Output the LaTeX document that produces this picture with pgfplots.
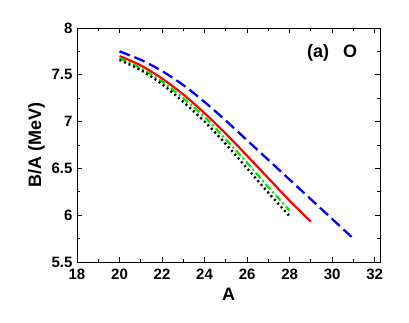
\documentclass[border=0pt]{standalone}
\usepackage{pgfplots}
\pgfplotsset{compat=1.18}
\usepackage{fontspec}
\setmainfont{Liberation Sans}
\begin{document}
\begin{tikzpicture}
\begin{axis}[
  scale only axis,
  width=303pt, height=234pt,
  xmin=18, xmax=32.25, ymin=5.5, ymax=8,
  xtick={18,20,...,32}, ytick={5.5,6,...,8},
  minor x tick num=1, minor y tick num=1,
  tick align=inside, ticks=both,
  xtick pos=both, ytick pos=both,
  major tick length=5pt, minor tick length=3pt,
  tick style={black, line width=0.8pt},
  axis line style={line width=0.9pt},
  /pgf/number format/assume math mode=true,
  yticklabel style={/pgf/number format/fixed, /pgf/number format/precision=1, xshift=-1pt},
  xticklabel style={yshift=-3pt},
  ticklabel style={font=\fontsize{15}{17}\selectfont\bfseries},
  xlabel={A}, ylabel={B/A (MeV)},
  label style={font=\fontsize{18}{20}\selectfont\bfseries},
  xlabel style={yshift=-2pt},
  ylabel style={yshift=0pt},
  clip=false,
]
\addplot[blue, line width=2.3pt, dash pattern=on 11pt off 5pt, smooth, tension=0.5] coordinates {
(20,7.75) (21,7.66) (22,7.54) (23,7.39) (24,7.21) (25,7.01) (26,6.80) (27,6.59) (28,6.38) (29,6.17) (30,5.96) (31,5.75)};
\addplot[red, line width=2.2pt, smooth, tension=0.5] coordinates {
(20,7.70) (21,7.60) (22,7.46) (23,7.29) (24,7.09) (25,6.87) (26,6.635) (27,6.395) (28,6.155) (29,5.93)};
\addplot[green!90!black, line width=2.2pt, dash pattern=on 7pt off 3pt on 2pt off 3pt, smooth, tension=0.5] coordinates {
(20,7.68) (21,7.57) (22,7.43) (23,7.25) (24,7.05) (25,6.81) (26,6.56) (27,6.30) (28,6.05)};
\addplot[black, line width=2.4pt, dash pattern=on 2pt off 3pt, smooth, tension=0.5] coordinates {
(20,7.66) (21,7.55) (22,7.40) (23,7.21) (24,7.00) (25,6.76) (26,6.50) (27,6.24) (28,5.99)};
\node[font=\fontsize{18}{20}\selectfont\bfseries] at (axis cs:30.0,7.73) {(a)\hspace{14pt}O};
\path (rel axis cs:0,0) ++(-77pt,-60pt) coordinate (bl);
\end{axis}
\useasboundingbox (bl) rectangle ++(409pt,322pt);
\end{tikzpicture}
\end{document}
